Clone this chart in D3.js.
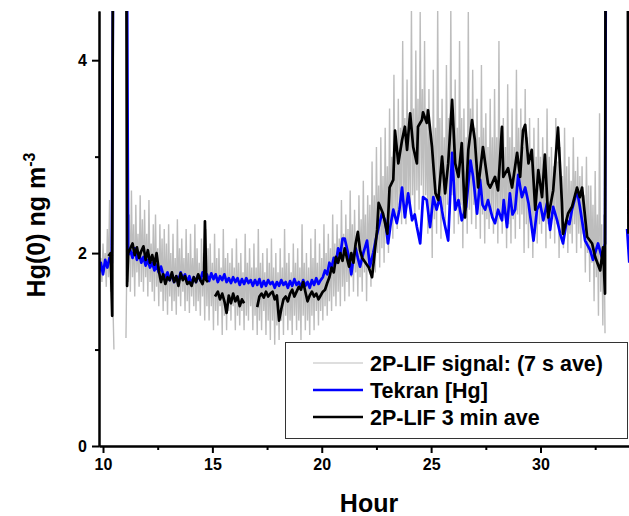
<!DOCTYPE html>
<html>
<head>
<meta charset="utf-8">
<script src="https://cdn.jsdelivr.net/npm/d3@7"></script>
<style>
  body { margin: 0; background: #fff; }
  svg { display: block; font-family: "Liberation Sans", Arial, sans-serif; font-weight: bold; }
</style>
</head>
<body>
<div id="chart"></div>
<script>
// 2P-LIF raw signal (7 s ave), sampled every 0.05 h from 9.85 h, one row per hour, null = no data
const signalStart = 9.85
const signalStep = 0.05
const signalHg = [
  1.75, 1.95, 1.7, 2.1, 1.8, 2.0, 1.65, 2.25, 1.75, 2.55, 1.6, 2.3, 1.5, 1.0, null, null, null, null, null, null,
  null, null, null, null, 1.12, 2.1, 1.7, 2.4, 1.6, 2.65, 1.75, 2.3, 1.55, 2.5, 1.8, 2.2, 1.65, 2.6, 1.7, 2.35,
  1.6, 2.45, 1.75, 2.2, 1.55, 2.55, 1.7, 2.1, 1.6, 2.3, 1.5, 2.4, 1.65, 2.05, 1.45, 2.3, 1.6, 2.15, 1.4, 2.25,
  1.5, 2.1, 1.36, 2.3, 1.55, 2.0, 1.4, 2.2, 1.5, 1.95, 1.36, 2.35, 1.55, 2.05, 1.45, 2.15, 1.6, 1.95, 1.4, 2.25,
  1.5, 2.0, 1.38, 2.2, 1.55, 1.95, 1.45, 2.3, 1.4, 2.05, 1.5, 1.9, 1.35, 2.15, 1.55, 2.0, 1.3, 2.25, 1.45, 2.05,
  1.3, 2.1, 1.45, 1.9, 1.2, 2.2, 1.4, 1.95, 1.25, 2.05, 1.45, 1.85, 1.15, 2.25, 1.35, 1.95, 1.2, 2.0, 1.4, 1.9,
  1.3, 2.05, 1.45, 1.85, 1.2, 2.15, 1.35, 1.9, 1.25, 2.0, 1.4, 1.8, 1.2, 2.2, 1.35, 1.9, 1.3, 2.05, 1.45, 1.85,
  1.2, 2.1, 1.35, 1.85, 1.15, 2.25, 1.3, 1.9, 1.2, 2.0, 1.4, 1.8, 1.15, 2.05, 1.3, 1.9, 1.1, 2.15, 1.3, 1.85,
  1.05, 2.0, 1.25, 1.8, 1.1, 2.05, 1.3, 1.85, 1.15, 2.25, 1.35, 1.9, 1.2, 2.0, 1.3, 1.8, 1.15, 2.1, 1.35, 1.9,
  1.2, 2.05, 1.3, 1.85, 1.1, 2.3, 1.35, 1.9, 1.2, 2.0, 1.3, 1.85, 1.15, 2.15, 1.35, 1.95, 1.2, 2.25, 1.4, 1.9,
  1.25, 2.1, 1.4, 1.95, 1.3, 2.3, 1.45, 2.0, 1.35, 2.2, 1.5, 2.05, 1.4, 2.4, 1.55, 2.1, 1.45, 2.3, 1.6, 2.15,
  1.45, 2.55, 1.65, 2.2, 1.5, 2.4, 1.7, 2.25, 1.55, 2.65, 1.75, 2.3, 1.6, 2.45, 1.8, 2.2, 1.55, 2.6, 1.75, 2.35,
  1.6, 2.75, 1.8, 2.4, 1.5, 2.6, 1.85, 2.5, 1.65, 2.95, 1.9, 2.6, 1.8, 3.1, 2.0, 2.7, 1.85, 3.2, 2.05, 2.8,
  1.9, 3.3, 2.1, 2.9, 2.0, 3.5, 2.3, 3.0, 2.15, 3.85, 2.4, 3.2, 2.25, 3.6, 2.5, 3.3, 2.3, 4.2, 2.45, 3.4,
  2.3, 3.8, 2.55, 3.4, 2.4, 4.55, 2.6, 3.5, 2.35, 4.1, 2.65, 3.6, 2.45, 4.5, 2.7, 3.7, 2.5, 4.2, 2.6, 3.5,
  2.2, 3.7, 2.4, 3.2, 1.95, 3.9, 2.35, 3.3, 2.2, 4.55, 2.5, 3.4, 2.15, 3.6, 2.45, 3.2, 2.3, 3.95, 2.5, 3.4,
  2.4, 4.55, 2.6, 3.5, 2.2, 3.8, 2.45, 3.3, 2.3, 4.2, 2.5, 3.4, 2.05, 3.5, 2.35, 3.2, 2.2, 4.5, 2.45, 3.5,
  2.3, 3.9, 2.5, 3.3, 2.25, 3.6, 2.45, 3.2, 2.15, 3.95, 2.4, 3.3, 2.1, 3.45, 2.35, 3.1, 2.25, 3.6, 2.4, 3.2,
  2.2, 3.7, 2.4, 3.2, 2.1, 4.2, 2.35, 3.3, 2.2, 3.4, 2.4, 3.1, 2.05, 3.75, 2.3, 3.2, 2.1, 3.5, 2.35, 3.1,
  2.15, 3.9, 2.4, 3.3, 2.25, 3.5, 2.4, 3.1, 2.0, 3.7, 2.3, 3.2, 2.05, 3.4, 2.3, 3.0, 1.95, 3.3, 2.2, 3.0,
  2.1, 3.4, 2.3, 3.0, 2.2, 3.2, 2.4, 2.9, 2.05, 3.5, 2.3, 3.0, 2.15, 3.1, 2.35, 2.9, 2.1, 3.4, 2.3, 2.95,
  1.95, 3.1, 2.2, 2.8, 2.05, 3.3, 2.25, 2.9, 2.0, 3.0, 2.2, 2.75, 2.1, 3.2, 2.3, 2.85, 2.0, 3.0, 2.2, 2.8,
  2.05, 2.9, 2.2, 2.6, 1.8, 3.0, 2.0, 2.7, 1.7, 2.7, 1.9, 2.5, 1.5, 2.85, 1.75, 2.4, 1.35, 3.45, 1.6, 2.3,
  1.25, 2.4, 1.17, null, null, null, null, null, null, null, null, null, null, null, null, null, null, null, null, null,
  null, null, null, 2.3, 1.95
]

// Tekran [Hg]
const tekranHour = [
  9.82, 9.9, 10.0, 10.1, 10.2, 10.3, 10.4, 10.48, 10.7, 11.08,
  11.15, 11.25, 11.35, 11.45, 11.55, 11.65, 11.75, 11.85, 11.95, 12.05,
  12.15, 12.25, 12.35, 12.45, 12.55, 12.65, 12.75, 12.85, 12.95, 13.05,
  13.15, 13.25, 13.35, 13.45, 13.55, 13.65, 13.75, 13.85, 13.95, 14.05,
  14.15, 14.25, 14.35, 14.45, 14.55, 14.65, 14.75, 14.85, 14.95, 15.05,
  15.15, 15.25, 15.35, 15.45, 15.55, 15.65, 15.75, 15.85, 15.95, 16.05,
  16.15, 16.25, 16.35, 16.45, 16.55, 16.65, 16.75, 16.85, 16.95, 17.05,
  17.15, 17.25, 17.35, 17.45, 17.55, 17.65, 17.75, 17.85, 17.95, 18.05,
  18.15, 18.25, 18.35, 18.45, 18.55, 18.65, 18.75, 18.85, 18.95, 19.05,
  19.15, 19.25, 19.35, 19.45, 19.55, 19.65, 19.75, 19.85, 19.95, 20.05,
  20.15, 20.25, 20.35, 20.45, 20.55, 20.65, 20.75, 20.85, 20.95, 21.05,
  21.15, 21.25, 21.35, 21.45, 21.55, 21.65, 21.75, 21.9, 22.07, 22.2,
  22.35, 22.5, 22.75, 22.9, 23.03, 23.15, 23.27, 23.43, 23.55, 23.67,
  23.8, 23.95, 24.13, 24.25, 24.35, 24.5, 24.63, 24.8, 24.95, 25.1,
  25.25, 25.4, 25.55, 25.78, 25.96, 26.1, 26.25, 26.4, 26.6, 26.8,
  26.92, 27.1, 27.24, 27.35, 27.47, 27.6, 27.8, 27.92, 28.06, 28.24,
  28.32, 28.47, 28.6, 28.72, 28.84, 28.98, 29.15, 29.3, 29.45, 29.68,
  29.84, 29.98, 30.13, 30.3, 30.44, 30.58, 30.76, 30.9, 31.03, 31.2,
  31.32, 31.44, 31.67, 31.8, 32.04, 32.27, 32.4, 32.63, 32.8, 32.95,
  33.0, 33.5, 33.96, 34.06
]
const tekranHg = [
  1.80, 1.90, 1.78, 1.93, 1.85, 1.95, 1.90, 6.0, null, 6.0,
  1.98, 2.03, 1.95, 2.05, 1.93, 2.00, 1.90, 1.96, 1.87, 1.93,
  1.85, 1.90, 1.82, 1.88, 1.80, 1.86, 1.78, 1.75, 1.80, 1.72,
  1.78, 1.70, 1.76, 1.72, 1.80, 1.74, 1.78, 1.70, 1.76, 1.68,
  1.75, 1.70, 1.77, 1.72, 1.80, 1.74, 1.78, 1.71, 1.79, 1.73,
  1.78, 1.70, 1.76, 1.72, 1.78, 1.70, 1.74, 1.69, 1.75, 1.70,
  1.74, 1.67, 1.73, 1.68, 1.74, 1.69, 1.72, 1.66, 1.72, 1.67,
  1.73, 1.65, 1.71, 1.66, 1.72, 1.68, 1.70, 1.64, 1.70, 1.66,
  1.72, 1.67, 1.70, 1.64, 1.71, 1.66, 1.73, 1.67, 1.70, 1.65,
  1.72, 1.66, 1.70, 1.64, 1.72, 1.67, 1.74, 1.68, 1.72, 1.75,
  1.82, 1.78, 1.90, 1.85, 1.95, 1.90, 2.05, 1.98, 2.15, 2.15,
  2.05, 1.95, 1.78, 1.95, 2.05, 1.95, 1.86, 2.0, 2.13, 1.86,
  2.0, 2.17, 2.41, 2.34, 2.10, 2.30, 2.45, 2.31, 2.45, 2.68,
  2.37, 2.62, 2.34, 2.40, 2.27, 2.10, 2.58, 2.55, 2.27, 2.58,
  2.45, 2.58, 2.37, 2.13, 3.04, 2.45, 2.55, 2.34, 2.48, 2.96,
  2.79, 2.41, 2.76, 2.50, 2.45, 2.55, 2.37, 2.31, 2.45, 2.34,
  2.55, 2.27, 2.62, 2.40, 2.45, 2.81, 2.58, 2.68, 2.52, 2.13,
  2.45, 2.52, 2.34, 2.52, 2.24, 2.48, 2.34, 2.20, 2.10, 2.34,
  2.30, 2.45, 2.65, 2.48, 2.13, 2.03, 1.93, 2.10, 1.96, 2.10,
  6.0, null, 2.25, 1.90
]

// 2P-LIF 3 min ave
const lifHour = [
  10.25, 10.35, 10.42, 10.46, 10.7, 11.06, 11.1, 11.15, 11.25, 11.35,
  11.45, 11.55, 11.65, 11.75, 11.85, 11.95, 12.05, 12.15, 12.25, 12.35,
  12.45, 12.55, 12.65, 12.75, 12.85, 12.95, 13.05, 13.15, 13.25, 13.35,
  13.45, 13.55, 13.65, 13.75, 13.85, 13.95, 14.05, 14.15, 14.25, 14.35,
  14.45, 14.55, 14.62, 14.66, 14.72, 14.8, 14.95, 15.12, 15.25, 15.35,
  15.45, 15.55, 15.65, 15.75, 15.85, 15.95, 16.05, 16.15, 16.25, 16.35,
  16.45, 16.7, 17.05, 17.15, 17.25, 17.35, 17.45, 17.55, 17.65, 17.75,
  17.85, 17.95, 18.05, 18.15, 18.25, 18.35, 18.45, 18.55, 18.65, 18.75,
  18.85, 18.95, 19.05, 19.15, 19.25, 19.35, 19.45, 19.55, 19.65, 19.75,
  19.85, 19.95, 20.05, 20.15, 20.25, 20.35, 20.45, 20.55, 20.65, 20.75,
  20.85, 20.95, 21.05, 21.15, 21.25, 21.35, 21.45, 21.55, 21.65, 21.75,
  21.85, 22.0, 22.15, 22.3, 22.53, 22.6, 22.8, 23.0, 23.1, 23.27,
  23.35, 23.5, 23.67, 23.8, 23.9, 24.04, 24.18, 24.35, 24.4, 24.58,
  24.63, 24.8, 24.86, 25.04, 25.2, 25.33, 25.5, 25.64, 25.78, 25.96,
  26.1, 26.25, 26.4, 26.55, 26.7, 26.87, 27.0, 27.15, 27.37, 27.6,
  27.7, 27.92, 28.06, 28.24, 28.3, 28.52, 28.7, 28.93, 29.07, 29.2,
  29.3, 29.45, 29.6, 29.76, 29.9, 30.07, 30.2, 30.35, 30.58, 30.8,
  30.98, 31.03, 31.26, 31.44, 31.67, 31.8, 31.9, 32.13, 32.36, 32.5,
  32.73, 32.86, 32.95, 32.98, 33.5, 33.98, 34.02
]
const lifHg = [
  1.97, 2.00, 1.35, 6.0, null, 6.0, 1.66, 2.00, 2.05, 2.10,
  1.98, 2.06, 1.95, 2.02, 2.07, 1.93, 2.03, 1.90, 1.98, 1.88,
  2.00, 1.82, 1.70, 1.78, 1.68, 1.75, 1.72, 1.80, 1.70, 1.76,
  1.66, 1.79, 1.72, 1.76, 1.68, 1.70, 1.66, 1.75, 1.70, 1.78,
  1.72, 1.68, 1.75, 2.33, 1.72, 1.70, null, 1.55, 1.60, 1.52,
  1.58, 1.50, 1.38, 1.56, 1.48, 1.58, 1.50, 1.55, 1.45, 1.52,
  1.48, null, 1.44, 1.55, 1.58, 1.54, 1.60, 1.55, 1.58, 1.60,
  1.52, 1.56, 1.30, 1.42, 1.52, 1.55, 1.50, 1.58, 1.62, 1.55,
  1.60, 1.65, 1.62, 1.70, 1.60, 1.50, 1.56, 1.60, 1.55, 1.58,
  1.52, 1.56, 1.60, 1.62, 1.69, 1.75, 1.85, 1.80, 1.96, 1.90,
  2.00, 1.92, 2.05, 1.95, 1.86, 2.00, 1.90, 2.10, 2.22, 2.03,
  1.95, 1.90, 1.85, 1.75, 2.24, 2.52, 2.41, 2.20, 2.68, 2.76,
  3.27, 2.93, 3.17, 3.31, 3.07, 3.45, 3.10, 2.93, 3.31, 3.38,
  3.46, 3.35, 3.48, 3.10, 2.62, 2.55, 3.00, 2.62, 2.93, 3.59,
  2.93, 2.79, 3.14, 2.37, 3.07, 3.38, 3.17, 2.68, 3.10, 2.72,
  2.68, 2.79, 2.65, 3.31, 2.79, 2.88, 2.68, 3.04, 2.79, 3.27,
  3.33, 2.93, 3.07, 2.45, 2.86, 2.58, 3.02, 2.37, 2.65, 3.30,
  2.52, 2.20, 2.41, 2.48, 2.68, 2.58, 2.68, 2.17, 2.10, 1.96,
  1.82, 2.06, 1.58, 6.0, null, 6.0, 2.20
]

const xTicks = [10, 15, 20, 25, 30]
const xMinorTicks = [12.5, 17.5, 22.5, 27.5, 32.5]
const yTicks = [0, 2, 4]
const yMinorTicks = [1, 3]
const legendLabels = ["2P-LIF signal: (7 s ave)", "Tekran [Hg]", "2P-LIF 3 min ave"]
const legendColors = ["#bdbdbd", "#0000ff", "#000000"]

const width = 629, height = 516
const plot = { left: 99, right: 629, top: 11, bottom: 446 }

const svg = d3.select("#chart").append("svg")
    .attr("width", width)
    .attr("height", height)

const x = d3.scaleLinear().domain([9.817, 34.046]).range([plot.left, plot.right])
const y = d3.scaleLinear().domain([0, 4.51]).range([plot.bottom, plot.top])

svg.append("defs").append("clipPath")
    .attr("id", "clip")
    .append("rect")
    .attr("x", plot.left)
    .attr("y", plot.top)
    .attr("width", plot.right - plot.left)
    .attr("height", plot.bottom - plot.top)

const toPoints = (hours, values) => hours.map((h, i) => ({ h: h, v: values[i] }))
const signal = signalHg.map((v, i) => ({ h: signalStart + i * signalStep, v: v }))
const tekran = toPoints(tekranHour, tekranHg)
const lif = toPoints(lifHour, lifHg)

const line = d3.line()
    .defined(d => d.v != null)
    .x(d => x(d.h))
    .y(d => y(d.v))

const data = svg.append("g").attr("clip-path", "url(#clip)")

data.append("path")
    .datum(signal)
    .attr("d", line)
    .attr("fill", "none")
    .attr("stroke", legendColors[0])
    .attr("stroke-width", 1.4)

data.append("path")
    .datum(tekran)
    .attr("d", line)
    .attr("fill", "none")
    .attr("stroke", legendColors[1])
    .attr("stroke-width", 2.7)
    .attr("stroke-linejoin", "round")

data.append("path")
    .datum(lif)
    .attr("d", line)
    .attr("fill", "none")
    .attr("stroke", legendColors[2])
    .attr("stroke-width", 2.7)
    .attr("stroke-linejoin", "round")

// axes
const styleAxis = g => {
    g.selectAll("path, line").attr("stroke", "#000").attr("stroke-width", 2)
    g.selectAll("text")
        .attr("fill", "#000")
        .style("font-size", "16px")
        .style("font-weight", "bold")
        .style("font-family", "'Liberation Sans', Arial, sans-serif")
}

svg.append("g")
    .attr("transform", "translate(0," + plot.bottom + ")")
    .call(d3.axisBottom(x).tickValues(xTicks).tickFormat(d3.format("d")).tickSize(7).tickSizeOuter(0).tickPadding(6))
    .call(styleAxis)

svg.append("g")
    .attr("transform", "translate(0," + plot.bottom + ")")
    .call(d3.axisBottom(x).tickValues(xMinorTicks).tickSize(4).tickSizeOuter(0).tickFormat(""))
    .call(styleAxis)

svg.append("g")
    .attr("transform", "translate(" + plot.left + ",0)")
    .call(d3.axisLeft(y).tickValues(yTicks).tickFormat(d3.format("d")).tickSize(7).tickSizeOuter(0).tickPadding(5))
    .call(styleAxis)

svg.append("g")
    .attr("transform", "translate(" + plot.left + ",0)")
    .call(d3.axisLeft(y).tickValues(yMinorTicks).tickSize(4).tickSizeOuter(0).tickFormat(""))
    .call(styleAxis)

// axis titles
svg.append("text")
    .attr("x", 369)
    .attr("y", 512)
    .attr("text-anchor", "middle")
    .style("font-size", "25px")
    .text("Hour")

const yTitle = svg.append("text")
    .attr("transform", "translate(45,225) rotate(-90)")
    .attr("text-anchor", "middle")
    .style("font-size", "25px")
yTitle.append("tspan").text("Hg(0) ng m")
yTitle.append("tspan").attr("dy", -10).style("font-size", "16px").text("-3")

// legend
const legend = svg.append("g")
legend.append("rect")
    .attr("x", 285.5)
    .attr("y", 342.5)
    .attr("width", 342)
    .attr("height", 96)
    .attr("fill", "#fff")
    .attr("stroke", "#333")
    .attr("stroke-width", 1)

legendLabels.forEach((label, i) => {
    const ly = 363 + i * 27
    legend.append("line")
        .attr("x1", 313).attr("x2", 363)
        .attr("y1", ly).attr("y2", ly)
        .attr("stroke", legendColors[i])
        .attr("stroke-width", i == 0 ? 1.2 : 2.7)
    legend.append("text")
        .attr("x", 370)
        .attr("y", ly + 7.5)
        .style("font-size", "21.5px")
        .text(label)
})
</script>
</body>
</html>
